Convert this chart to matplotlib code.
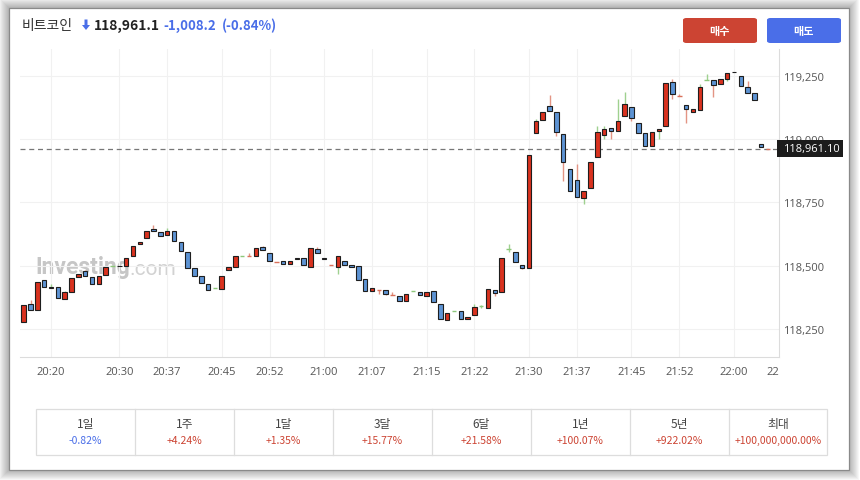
import matplotlib
matplotlib.use("Agg")
import matplotlib.pyplot as plt
from matplotlib.patches import Rectangle, FancyBboxPatch, Polygon

plt.rcParams['font.family'] = ['Noto Sans CJK KR', 'DejaVu Sans']

W, H = 860, 481

# 1-minute candles, the first one opens at 20:16
first_candle = "20:16"
opens = [118277, 118348, 118325, 118443, 118413, 118415, 118368, 118396, 118455, 118479,
         118455, 118427, 118463, 118500, 118497, 118498, 118538, 118585, 118609, 118645,
         118633, 118621, 118637, 118593, 118554, 118491, 118459, 118427, 118411, 118408,
         118482, 118494, 118540, 118537, 118538, 118574, 118550, 118516, 118518, 118506,
         118526, 118530, 118494, 118566, 118530, 118502, 118494, 118518, 118502, 118498,
         118447, 118400, 118404, 118404, 118386, 118380, 118360, 118400, 118396, 118380,
         118400, 118348, 118285, 118321, 118321, 118289, 118305, 118340, 118333, 118404,
         118396, 118566, 118554, 118502, 118491, 119024, 119075, 119130, 119107, 119020,
         118882, 118838, 118767, 118806, 118929, 119016, 119044, 119032, 119091, 119126,
         119063, 119024, 118972, 119032, 119051, 119225, 119170, 119134, 119107, 119115,
         119233, 119233, 119217, 119237, 119265, 119249, 119205, 119182, 118980, 118961]
highs = [118344, 118364, 118435, 118443, 118428, 118415, 118400, 118451, 118467, 118483,
         118455, 118459, 118494, 118500, 118499, 118530, 118578, 118593, 118637, 118660,
         118633, 118648, 118637, 118593, 118554, 118491, 118459, 118427, 118411, 118459,
         118494, 118538, 118540, 118550, 118570, 118578, 118550, 118516, 118518, 118518,
         118529, 118530, 118570, 118574, 118530, 118502, 118538, 118518, 118502, 118498,
         118447, 118411, 118404, 118404, 118396, 118380, 118388, 118400, 118396, 118396,
         118400, 118348, 118313, 118321, 118321, 118297, 118348, 118346, 118408, 118404,
         118530, 118585, 118554, 118502, 118937, 119079, 119107, 119174, 119107, 119020,
         118882, 118901, 118795, 118909, 119051, 119051, 119044, 119158, 119186, 119126,
         119063, 119024, 119028, 119040, 119221, 119237, 119178, 119134, 119119, 119217,
         119257, 119233, 119237, 119261, 119268, 119249, 119229, 119182, 118980, 118961]
lows = [118277, 118325, 118325, 118415, 118413, 118372, 118368, 118396, 118455, 118459,
        118427, 118427, 118463, 118500, 118497, 118498, 118538, 118585, 118609, 118637,
        118617, 118621, 118597, 118558, 118491, 118459, 118431, 118404, 118411, 118408,
        118482, 118494, 118540, 118537, 118538, 118562, 118518, 118516, 118506, 118506,
        118526, 118502, 118494, 118550, 118527, 118502, 118467, 118502, 118494, 118443,
        118400, 118400, 118388, 118384, 118386, 118360, 118360, 118400, 118384, 118380,
        118356, 118289, 118285, 118321, 118289, 118289, 118305, 118334, 118333, 118380,
        118396, 118553, 118514, 118487, 118491, 119024, 119075, 119111, 119012, 118834,
        118795, 118771, 118743, 118806, 118929, 119000, 119000, 119032, 119091, 119071,
        119024, 118972, 118972, 119000, 119051, 119158, 119170, 119063, 119107, 119115,
        119233, 119166, 119217, 119229, 119265, 119209, 119182, 119154, 118968, 118961]
closes = [118344, 118325, 118435, 118415, 118417, 118372, 118396, 118451, 118467, 118459,
          118427, 118459, 118494, 118500, 118499, 118530, 118578, 118593, 118637, 118637,
          118617, 118637, 118597, 118558, 118491, 118459, 118431, 118404, 118411, 118459,
          118494, 118538, 118540, 118537, 118570, 118562, 118518, 118516, 118506, 118518,
          118529, 118502, 118570, 118550, 118527, 118502, 118538, 118502, 118494, 118443,
          118400, 118411, 118404, 118390, 118386, 118360, 118388, 118400, 118384, 118396,
          118356, 118289, 118313, 118321, 118289, 118297, 118336, 118340, 118408, 118392,
          118530, 118566, 118514, 118491, 118937, 119071, 119107, 119111, 119028, 118909,
          118795, 118771, 118795, 118909, 119028, 119040, 119032, 119071, 119138, 119083,
          119024, 118972, 119028, 119040, 119221, 119178, 119170, 119119, 119119, 119205,
          119233, 119213, 119237, 119261, 119268, 119209, 119182, 119154, 118968, 118961]

y_ticks = [118250, 118500, 118750, 119000, 119250]
x_tick_labels = ["20:20", "20:30", "20:37", "20:45", "20:52", "21:00", "21:07",
                 "21:15", "21:22", "21:30", "21:37", "21:45", "21:52", "22:00"]
last_price = 118961.10

header_name = "비트코인"
header_price = "118,961.1"
header_change = "-1,008.2"
header_pct = "(-0.84%)"

periods = ["1일", "1주", "1달", "3달", "6달", "1년", "5년", "최대"]
period_returns = ["-0.82%", "+4.24%", "+1.35%", "+15.77%", "+21.58%",
                  "+100.07%", "+922.02%", "+100,000,000.00%"]

UP, DOWN = '#d9321f', '#5d93d3'
UP_WICK, DOWN_WICK = '#9fd18f', '#e39484'
BLUE_TXT, RED_TXT = '#4a6ee8', '#cc4433'


def to_min(hhmm):
    h, m = hhmm.split(":")
    return int(h) * 60 + int(m)


def fx(x):
    return x / W


def fy(y):
    return 1 - y / H


fig = plt.figure(figsize=(W / 100, H / 100), dpi=100)
fig.patch.set_facecolor('white')

# card with a soft shadow
for k in range(10, 0, -1):
    fig.patches.append(Rectangle((fx(9 - k), fy(471 + k)), (840 + 2 * k) / W, (462 + 2 * k) / H,
                                 transform=fig.transFigure, facecolor='black', alpha=0.03,
                                 edgecolor='none', zorder=-20))
fig.patches.append(Rectangle((fx(9), fy(471)), 840 / W, 462 / H, transform=fig.transFigure,
                             facecolor='white', edgecolor='#8a8a8a', lw=0.9, zorder=-10))

# price chart
ax = fig.add_axes([fx(20), fy(358), 759 / W, 308 / H])
ax.set_facecolor('none')

start = to_min(first_candle)
xs = [start + i for i in range(len(opens))]
body_w = 0.66
prev = opens[0]
for x, o, h, l, c in zip(xs, opens, highs, lows, closes):
    if c == o:
        up = c >= prev
    else:
        up = c > o
    prev = c
    ax.vlines(x, l, h, colors=UP_WICK if up else DOWN_WICK, lw=1.0, zorder=2)
    if c == o:
        ax.hlines(c, x - body_w / 2, x + body_w / 2, colors='#8cc77a' if up else '#d9705a',
                  lw=1.0, zorder=3)
    else:
        ax.bar(x, abs(c - o), bottom=min(o, c), width=body_w, color=UP if up else DOWN,
               edgecolor='#1e1e1e', linewidth=0.8, zorder=3)

ax.axhline(last_price, color='#777777', lw=0.9, ls=(0, (4, 3)), zorder=1)

ax.set_xlim(1215.46, 1326.6)
ax.set_ylim(118139, 119357)
ax.set_xticks([to_min(t) for t in x_tick_labels])
ax.set_xticklabels(x_tick_labels)
ax.set_yticks(y_ticks)
ax.set_yticklabels([f"{v:,}" for v in y_ticks])
ax.yaxis.tick_right()
ax.tick_params(axis='x', length=0, pad=6.5, labelsize=8, labelcolor='#555555')
ax.tick_params(axis='y', length=0, pad=3, labelsize=8, labelcolor='#555555')
for lab in ax.get_xticklabels() + ax.get_yticklabels():
    lab.set_family('Open Sans')
ax.grid(color='#f1f1f1', lw=0.8, zorder=0)
ax.set_axisbelow(True)
for side in ['top', 'left']:
    ax.spines[side].set_visible(False)
for side in ['bottom', 'right']:
    ax.spines[side].set_color('#dcdcdc')
    ax.spines[side].set_linewidth(0.8)

# next label cut by the edge
ax.text(1.0, -9 / 308, "22", transform=ax.transAxes, ha='right', va='top',
        fontsize=8, color='#555555', family='Open Sans')

# last price tag (sits over the 119,000 label, as in the source)
fig.patches.append(Rectangle((fx(777), fy(158)), 66 / W, 17 / H, transform=fig.transFigure,
                             facecolor='#1c1c1c', edgecolor='none', zorder=5))
fig.text(fx(783), fy(149.5), f"{last_price:,.2f}", color='white', fontsize=8,
         va='center', ha='left', family='Open Sans', zorder=6)

# watermark
wm = ax.text(fx(35), fy(274), "Investing", transform=fig.transFigure, fontsize=16.5,
             fontweight='bold', color='#c6c6c6', family='Roboto', va='baseline', zorder=0.5)
ax.annotate(".com", xy=(1, 0), xycoords=wm, va='bottom', ha='left', fontsize=15,
            color='#d2d2d2', family='Roboto', zorder=0.5)

# header
fig.text(fx(22), fy(26), header_name, fontsize=10, color='#333333', va='center')
fig.patches.append(Polygon([(fx(84.5), fy(20.5)), (fx(87.5), fy(20.5)), (fx(87.5), fy(26)),
                            (fx(90), fy(26)), (fx(86), fy(31)), (fx(82), fy(26)),
                            (fx(84.5), fy(26))], closed=True, transform=fig.transFigure,
                           facecolor=BLUE_TXT, edgecolor='none'))
fig.text(fx(94), fy(26), header_price, fontsize=10, fontweight='bold', color='#222222',
         va='center')
fig.text(fx(163), fy(26), header_change, fontsize=9.5, fontweight='bold', color=BLUE_TXT,
         va='center')
fig.text(fx(222), fy(26), header_pct, fontsize=9.5, fontweight='bold', color=BLUE_TXT,
         va='center')

# buy / sell buttons
for x0, label, col in [(683, "매수", '#cc4433'), (767, "매도", '#4a6ee8')]:
    fig.patches.append(FancyBboxPatch((fx(x0), fy(44)), 74 / W, 25 / H,
                                      boxstyle='round,pad=0,rounding_size=0.004',
                                      transform=fig.transFigure, facecolor=col,
                                      edgecolor='none'))
    fig.text(fx(x0 + 37), fy(31.5), label, color='white', fontsize=8, fontweight='bold',
             ha='center', va='center')

# period returns table
edges = [36, 135, 234, 333, 432, 531, 630, 729, 827]
fig.patches.append(Rectangle((fx(36), fy(456)), (827 - 36) / W, 46 / H,
                             transform=fig.transFigure, facecolor='white',
                             edgecolor='#dddddd', lw=0.9))
for e in edges[1:-1]:
    fig.lines.append(plt.Line2D([fx(e), fx(e)], [fy(410), fy(456)], transform=fig.transFigure,
                                color='#dddddd', lw=0.9))
for i, (p, r) in enumerate(zip(periods, period_returns)):
    cx = (edges[i] + edges[i + 1]) / 2
    fig.text(fx(cx), fy(425), p, ha='center', va='center', fontsize=8.5, color='#444444')
    fig.text(fx(cx), fy(441), r, ha='center', va='center', fontsize=7.5,
             color=BLUE_TXT if r.startswith('-') else RED_TXT)

fig.savefig("out.png", dpi=100)
